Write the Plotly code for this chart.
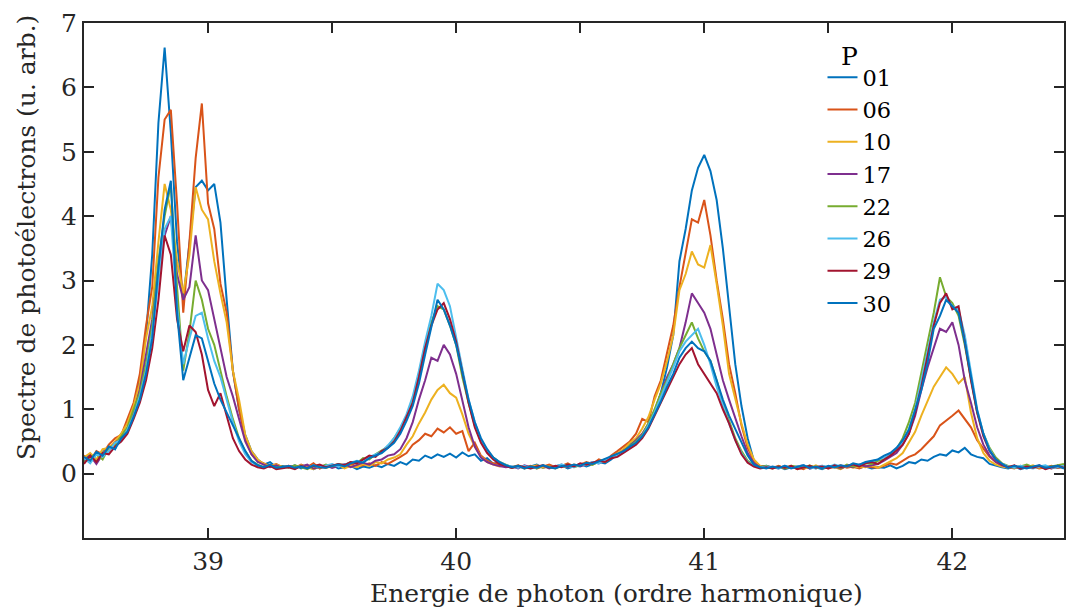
import numpy as np
import plotly.graph_objects as go

# ---------------- data ----------------
energy_start = 38.5      # photon energy of the first sample (harmonic order)
energy_step = 0.025      # spacing of the samples

labels = ["01", "06", "10", "17", "22", "26", "29", "30"]
colors = ["#0072BD", "#D95319", "#EDB120", "#7E2F8E",
          "#77AC30", "#4DBEEE", "#A2142F", "#0072BD"]

p01 = [0.22, 0.30, 0.18, 0.33, 0.42, 0.38, 0.62, 0.70, 0.95, 1.45, 2.15, 3.40, 5.45, 6.62, 5.30, 3.60, 2.70,
       3.60, 4.45, 4.55, 4.40, 4.50, 3.90, 2.70, 1.60, 1.00, 0.60, 0.35, 0.22, 0.14, 0.18, 0.10, 0.12,
       0.10, 0.13, 0.08, 0.12, 0.07, 0.11, 0.09, 0.14, 0.08, 0.10, 0.12, 0.07, 0.11, 0.09, 0.13, 0.10, 0.15,
       0.12, 0.18, 0.14, 0.22, 0.20, 0.28, 0.24, 0.30, 0.26, 0.31, 0.25, 0.33, 0.27, 0.30, 0.20, 0.24, 0.15, 0.18, 0.12,
       0.09, 0.12, 0.08, 0.11, 0.14, 0.09, 0.12, 0.10, 0.13, 0.08, 0.12, 0.15, 0.11, 0.14, 0.18, 0.16, 0.22,
       0.30, 0.38, 0.45, 0.52, 0.60, 0.72, 0.95, 1.25, 1.65, 2.15, 3.30, 3.80, 4.40, 4.75, 4.95, 4.70, 4.25, 3.50,
       2.55, 1.70, 1.05, 0.55, 0.20, 0.10, 0.12,
       0.08, 0.11, 0.07, 0.10, 0.09, 0.12, 0.08, 0.10, 0.07, 0.11, 0.09, 0.08, 0.12, 0.10, 0.09, 0.11, 0.08, 0.10,
       0.09, 0.13, 0.08, 0.12, 0.18, 0.16, 0.22, 0.20, 0.26, 0.30, 0.28, 0.36, 0.33, 0.40, 0.30, 0.26, 0.24, 0.15, 0.12, 0.10,
       0.08, 0.11, 0.07, 0.10, 0.09, 0.12, 0.08, 0.10, 0.09, 0.11]

p06 = [0.28, 0.20, 0.35, 0.30, 0.45, 0.55, 0.60, 0.85, 1.10, 1.55, 2.30, 2.90, 4.60, 5.50, 5.65, 4.20, 2.50,
       3.60, 4.90, 5.75, 4.20, 3.80, 2.95, 2.50, 1.60, 1.00, 0.55, 0.30, 0.20, 0.16, 0.12, 0.15, 0.10,
       0.12, 0.09, 0.14, 0.10, 0.16, 0.08, 0.12, 0.10, 0.13, 0.09, 0.15, 0.11, 0.13, 0.16, 0.12, 0.18, 0.15,
       0.20, 0.26, 0.32, 0.45, 0.52, 0.62, 0.58, 0.70, 0.64, 0.72, 0.62, 0.66, 0.35, 0.48, 0.28, 0.20, 0.16, 0.13, 0.11,
       0.10, 0.13, 0.09, 0.12, 0.08, 0.11, 0.14, 0.10, 0.12, 0.16, 0.11, 0.14, 0.18, 0.15, 0.22, 0.19, 0.28,
       0.35, 0.42, 0.50, 0.62, 0.85, 0.80, 1.20, 1.45, 1.90, 2.30, 2.90, 3.40, 3.95, 3.90, 4.25, 3.70, 3.00, 2.40,
       1.70, 1.25, 0.75, 0.40, 0.20, 0.12, 0.10,
       0.09, 0.12, 0.08, 0.11, 0.10, 0.07, 0.12, 0.09, 0.11, 0.08, 0.10, 0.13, 0.09, 0.11, 0.08, 0.12, 0.10, 0.09,
       0.12, 0.16, 0.14, 0.20, 0.26, 0.30, 0.38, 0.48, 0.58, 0.75, 0.82, 0.90, 0.98, 0.85, 0.72, 0.52, 0.38, 0.26, 0.18, 0.12,
       0.10, 0.08, 0.12, 0.09, 0.11, 0.08, 0.10, 0.12, 0.09, 0.10]

p10 = [0.25, 0.32, 0.22, 0.38, 0.40, 0.50, 0.62, 0.78, 1.05, 1.40, 2.10, 2.60, 3.60, 4.50, 4.10, 3.30, 2.80,
       3.40, 4.45, 4.10, 3.95, 3.30, 2.80, 2.35, 1.60, 1.15, 0.60, 0.35, 0.22, 0.15, 0.12, 0.14, 0.10,
       0.11, 0.08, 0.13, 0.10, 0.07, 0.12, 0.09, 0.11, 0.14, 0.08, 0.12, 0.10, 0.15, 0.12, 0.18, 0.16, 0.22,
       0.25, 0.30, 0.45, 0.58, 0.78, 0.95, 1.15, 1.30, 1.38, 1.25, 1.18, 0.92, 0.62, 0.42, 0.26, 0.18, 0.14, 0.11, 0.13,
       0.09, 0.12, 0.08, 0.10, 0.13, 0.09, 0.11, 0.08, 0.12, 0.10, 0.14, 0.12, 0.16, 0.14, 0.20, 0.18, 0.25,
       0.32, 0.38, 0.48, 0.55, 0.70, 0.88, 1.15, 1.40, 1.75, 2.15, 2.85, 3.10, 3.45, 3.25, 3.20, 3.55, 2.95, 2.30,
       1.55, 1.15, 0.78, 0.45, 0.22, 0.12, 0.10,
       0.08, 0.11, 0.09, 0.12, 0.07, 0.10, 0.09, 0.13, 0.08, 0.11, 0.10, 0.07, 0.12, 0.09, 0.11, 0.10, 0.13, 0.09,
       0.14, 0.18, 0.24, 0.32, 0.48, 0.65, 0.90, 1.12, 1.35, 1.50, 1.65, 1.55, 1.40, 1.50, 0.95, 0.55, 0.32, 0.20, 0.14, 0.11,
       0.09, 0.12, 0.08, 0.10, 0.13, 0.09, 0.11, 0.08, 0.12, 0.10]

p17 = [0.20, 0.28, 0.15, 0.30, 0.35, 0.48, 0.55, 0.70, 0.95, 1.30, 1.85, 2.40, 3.20, 3.70, 4.00, 3.10, 2.70,
       2.90, 3.70, 3.00, 2.85, 2.40, 1.95, 1.50, 1.20, 0.85, 0.50, 0.30, 0.18, 0.14, 0.10, 0.13, 0.09,
       0.12, 0.09, 0.11, 0.14, 0.08, 0.10, 0.13, 0.09, 0.12, 0.15, 0.10, 0.13, 0.17, 0.14, 0.20, 0.22, 0.28,
       0.30, 0.38, 0.55, 0.80, 1.15, 1.45, 1.80, 1.75, 2.00, 1.85, 1.55, 1.15, 0.72, 0.42, 0.25, 0.18, 0.14, 0.12, 0.10,
       0.11, 0.08, 0.13, 0.10, 0.09, 0.12, 0.08, 0.11, 0.14, 0.10, 0.13, 0.11, 0.15, 0.18, 0.16, 0.22, 0.24,
       0.28, 0.36, 0.42, 0.52, 0.62, 0.78, 0.98, 1.25, 1.50, 1.70, 1.95, 2.35, 2.80, 2.65, 2.50, 2.25, 1.85, 1.45,
       1.15, 0.85, 0.58, 0.32, 0.16, 0.10, 0.12,
       0.10, 0.08, 0.12, 0.09, 0.11, 0.13, 0.08, 0.10, 0.12, 0.09, 0.11, 0.08, 0.12, 0.10, 0.14, 0.11, 0.13, 0.15,
       0.20, 0.26, 0.32, 0.45, 0.62, 0.90, 1.30, 1.65, 1.95, 2.25, 2.20, 2.35, 2.00, 1.45, 1.10, 0.72, 0.45, 0.28, 0.18, 0.13,
       0.10, 0.12, 0.08, 0.11, 0.09, 0.13, 0.10, 0.08, 0.12, 0.10]

p22 = [0.18, 0.26, 0.30, 0.22, 0.40, 0.45, 0.58, 0.72, 1.00, 1.25, 1.70, 2.30, 3.30, 4.00, 4.50, 2.90, 1.60,
       2.20, 3.00, 2.70, 2.25, 2.00, 1.60, 1.20, 0.85, 0.55, 0.35, 0.20, 0.14, 0.10, 0.13, 0.09, 0.11,
       0.09, 0.13, 0.10, 0.07, 0.12, 0.10, 0.14, 0.11, 0.15, 0.13, 0.18, 0.16, 0.24, 0.22, 0.30, 0.36, 0.42,
       0.55, 0.70, 0.90, 1.15, 1.55, 2.00, 2.35, 2.60, 2.55, 2.30, 2.00, 1.50, 1.10, 0.75, 0.50, 0.35, 0.25, 0.18, 0.14,
       0.10, 0.12, 0.09, 0.11, 0.08, 0.13, 0.10, 0.09, 0.12, 0.14, 0.10, 0.13, 0.16, 0.14, 0.19, 0.22, 0.25,
       0.28, 0.35, 0.42, 0.50, 0.60, 0.78, 1.00, 1.25, 1.45, 1.70, 1.95, 2.15, 2.35, 2.10, 1.90, 1.75, 1.45, 1.10,
       0.82, 0.55, 0.35, 0.20, 0.13, 0.10, 0.12,
       0.09, 0.11, 0.08, 0.12, 0.10, 0.09, 0.13, 0.08, 0.11, 0.10, 0.12, 0.09, 0.14, 0.11, 0.13, 0.16, 0.15, 0.20,
       0.22, 0.30, 0.38, 0.55, 0.80, 1.10, 1.55, 2.05, 2.50, 3.05, 2.75, 2.65, 2.45, 2.00, 1.45, 0.95, 0.62, 0.40, 0.25, 0.16,
       0.12, 0.09, 0.11, 0.14, 0.10, 0.12, 0.09, 0.11, 0.13, 0.15]

p26 = [0.24, 0.16, 0.30, 0.26, 0.35, 0.48, 0.52, 0.68, 0.90, 1.20, 1.60, 2.20, 3.00, 3.80, 4.00, 2.60, 1.70,
       2.10, 2.45, 2.50, 2.10, 1.75, 1.50, 1.15, 0.80, 0.50, 0.30, 0.18, 0.12, 0.09, 0.12, 0.08, 0.10,
       0.11, 0.08, 0.12, 0.09, 0.13, 0.10, 0.12, 0.15, 0.11, 0.14, 0.17, 0.20, 0.18, 0.26, 0.30, 0.34, 0.44,
       0.55, 0.72, 0.92, 1.20, 1.60, 2.05, 2.45, 2.95, 2.85, 2.60, 2.10, 1.60, 1.15, 0.80, 0.52, 0.36, 0.24, 0.18, 0.13,
       0.11, 0.09, 0.12, 0.08, 0.10, 0.13, 0.09, 0.11, 0.14, 0.12, 0.10, 0.15, 0.13, 0.18, 0.16, 0.21, 0.24,
       0.28, 0.33, 0.40, 0.48, 0.58, 0.75, 0.95, 1.20, 1.42, 1.65, 1.90, 2.05, 2.15, 2.25, 2.00, 1.70, 1.35, 1.05,
       0.78, 0.52, 0.32, 0.18, 0.12, 0.09, 0.11,
       0.10, 0.08, 0.12, 0.09, 0.11, 0.13, 0.10, 0.08, 0.12, 0.10, 0.14, 0.11, 0.12, 0.15, 0.13, 0.17, 0.19, 0.22,
       0.25, 0.30, 0.38, 0.50, 0.70, 1.00, 1.45, 1.95, 2.35, 2.70, 2.75, 2.60, 2.55, 2.15, 1.55, 1.00, 0.62, 0.38, 0.22, 0.15,
       0.11, 0.09, 0.12, 0.10, 0.08, 0.11, 0.13, 0.09, 0.10, 0.12]

p29 = [0.15, 0.28, 0.18, 0.32, 0.30, 0.42, 0.50, 0.62, 0.85, 1.10, 1.45, 1.95, 2.70, 3.70, 3.40, 2.40, 1.90,
       2.30, 2.20, 1.85, 1.30, 1.05, 1.25, 0.90, 0.55, 0.35, 0.22, 0.14, 0.10, 0.08, 0.12, 0.07, 0.09,
       0.10, 0.07, 0.12, 0.09, 0.11, 0.14, 0.10, 0.12, 0.15, 0.13, 0.18, 0.16, 0.22, 0.28, 0.26, 0.35, 0.40,
       0.50, 0.66, 0.88, 1.10, 1.50, 1.95, 2.30, 2.55, 2.65, 2.40, 2.05, 1.55, 1.10, 0.72, 0.48, 0.32, 0.22, 0.15, 0.12,
       0.09, 0.12, 0.10, 0.08, 0.11, 0.13, 0.09, 0.12, 0.10, 0.14, 0.11, 0.16, 0.14, 0.17, 0.20, 0.18, 0.24,
       0.26, 0.32, 0.38, 0.45, 0.55, 0.70, 0.90, 1.10, 1.30, 1.50, 1.70, 1.85, 1.95, 1.70, 1.55, 1.40, 1.25, 1.00,
       0.78, 0.52, 0.30, 0.17, 0.11, 0.08, 0.10,
       0.08, 0.11, 0.09, 0.12, 0.07, 0.10, 0.12, 0.09, 0.11, 0.08, 0.13, 0.10, 0.12, 0.14, 0.11, 0.16, 0.18, 0.15,
       0.22, 0.28, 0.36, 0.45, 0.62, 0.95, 1.35, 1.80, 2.30, 2.65, 2.80, 2.55, 2.60, 2.05, 1.45, 0.95, 0.58, 0.35, 0.22, 0.14,
       0.10, 0.13, 0.08, 0.11, 0.09, 0.12, 0.07, 0.10, 0.12, 0.09]

p30 = [0.26, 0.20, 0.34, 0.28, 0.42, 0.38, 0.55, 0.65, 0.88, 1.15, 1.55, 2.10, 3.20, 4.10, 4.55, 2.50, 1.45,
       1.80, 2.15, 2.10, 1.75, 1.40, 1.15, 0.95, 0.75, 0.55, 0.35, 0.20, 0.13, 0.10, 0.14, 0.09, 0.11,
       0.12, 0.09, 0.11, 0.08, 0.13, 0.10, 0.09, 0.12, 0.14, 0.11, 0.16, 0.19, 0.17, 0.24, 0.28, 0.32, 0.40,
       0.48, 0.62, 0.82, 1.05, 1.40, 1.85, 2.30, 2.70, 2.55, 2.30, 2.00, 1.55, 1.15, 0.80, 0.55, 0.38, 0.25, 0.18, 0.13,
       0.10, 0.12, 0.08, 0.11, 0.09, 0.13, 0.10, 0.08, 0.12, 0.11, 0.14, 0.12, 0.17, 0.15, 0.19, 0.23, 0.26,
       0.30, 0.35, 0.42, 0.48, 0.58, 0.72, 0.92, 1.12, 1.35, 1.55, 1.80, 1.95, 2.05, 1.95, 1.90, 1.75, 1.45, 1.15,
       0.90, 0.70, 0.48, 0.28, 0.14, 0.10, 0.08,
       0.11, 0.09, 0.12, 0.08, 0.10, 0.13, 0.09, 0.11, 0.08, 0.12, 0.10, 0.13, 0.11, 0.16, 0.14, 0.18, 0.20, 0.22,
       0.28, 0.32, 0.40, 0.52, 0.68, 0.98, 1.30, 1.72, 2.25, 2.45, 2.70, 2.60, 2.50, 2.05, 1.50, 0.98, 0.62, 0.36, 0.22, 0.15,
       0.09, 0.12, 0.10, 0.08, 0.11, 0.13, 0.09, 0.10, 0.12, 0.08]

series = [p01, p06, p10, p17, p22, p26, p29, p30]

x_ticks = [39, 40, 41, 42]
x_top_ticks = [39, 39.5, 40, 40.5, 41, 41.5, 42]
y_ticks = [0, 1, 2, 3, 4, 5, 6, 7]

x_title = "Energie de photon (ordre harmonique)"
y_title = "Spectre de photoélectrons (u. arb.)"
legend_title = "P"

# ---------------- figure ----------------
n = len(p01)
for s in series:
    assert len(s) == n, len(s)
energy = energy_start + energy_step * np.arange(n)

FONT = "DejaVu Serif"
AX = "#262626"

fig = go.Figure()
for lab, col, ys in zip(labels, colors, series):
    fig.add_trace(go.Scatter(x=energy, y=ys, mode="lines", name=lab,
                             line=dict(color=col, width=2)))
# invisible trace so the top (mirror) axis is drawn
fig.add_trace(go.Scatter(x=[None], y=[None], xaxis="x2", showlegend=False,
                         hoverinfo="skip"))

W, H = 1074, 609
L, R, T, B = 84, 8, 23, 71
pw, ph = W - L - R, H - T - B

def px(xp):
    return (xp - L) / pw

def py(yp):
    return 1 - (yp - T) / ph

fig.update_layout(
    width=W, height=H,
    margin=dict(l=L, r=R, t=T, b=B, pad=0),
    paper_bgcolor="white", plot_bgcolor="white",
    showlegend=True,
    xaxis=dict(range=[38.5, 42.45], tickvals=x_ticks, ticks="inside", ticklen=10,
               tickwidth=2, tickcolor=AX, showline=True, linecolor=AX, linewidth=2,
               showgrid=False, zeroline=False, mirror=False,
               tickfont=dict(family=FONT, size=25, color=AX)),
    xaxis2=dict(overlaying="x", side="top", anchor="y", range=[38.5, 42.45],
                tickvals=x_top_ticks, ticks="inside", ticklen=10, tickwidth=2,
                tickcolor=AX, showticklabels=False, showline=True, linecolor=AX,
                linewidth=2, showgrid=False, zeroline=False),
    yaxis=dict(range=[-1, 7], tickvals=y_ticks, ticks="inside", ticklen=10,
               tickwidth=2, tickcolor=AX, showline=True, linecolor=AX, linewidth=2,
               mirror="ticks", showgrid=False, zeroline=False,
               tickfont=dict(family=FONT, size=25, color=AX)),
    legend=dict(x=px(824), y=py(56), xanchor="left", yanchor="top",
                font=dict(family=FONT, size=22.5, color="black"),
                bgcolor="rgba(0,0,0,0)", borderwidth=0, tracegroupgap=0),
    annotations=[
        dict(text=legend_title, x=px(851), y=py(57), xref="paper", yref="paper",
             showarrow=False, xanchor="center", yanchor="middle",
             font=dict(family=FONT, size=25, color="black")),
        dict(text=x_title, x=px(618), y=py(593), xref="paper", yref="paper",
             showarrow=False, xanchor="center", yanchor="middle",
             font=dict(family=FONT, size=25, color=AX)),
        dict(text=y_title, x=px(26), y=py(238), xref="paper", yref="paper",
             showarrow=False, xanchor="center", yanchor="middle", textangle=-90,
             font=dict(family=FONT, size=25, color=AX)),
    ],
)

fig.write_html("out.html", config={"displayModeBar": False},
               post_script="document.body.style.margin='0px';")
